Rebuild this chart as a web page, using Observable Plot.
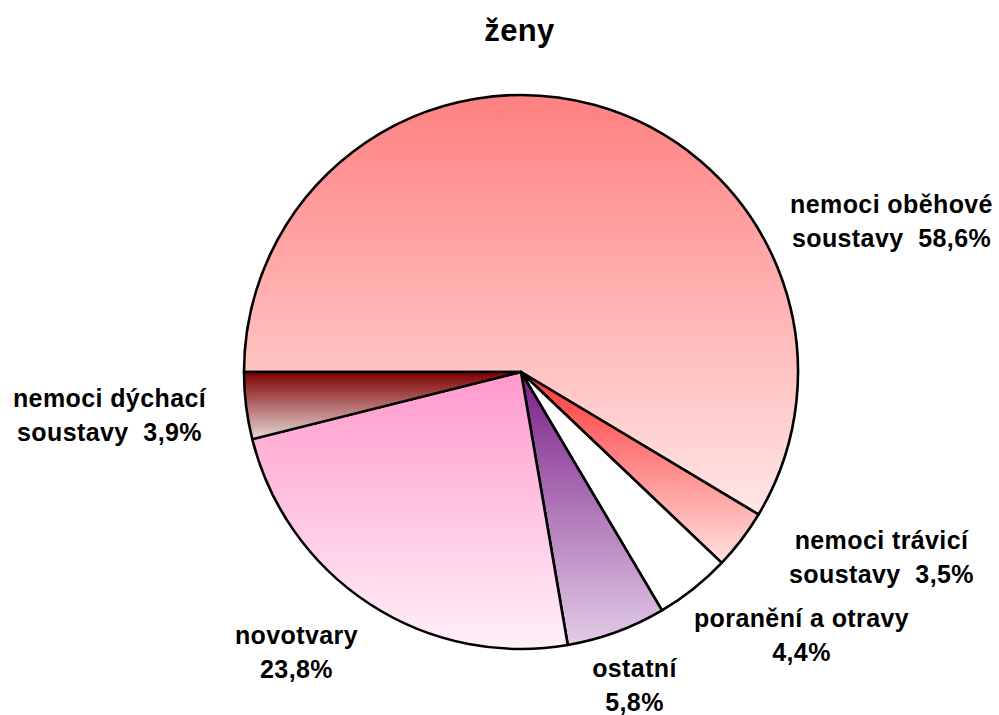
<!DOCTYPE html>
<html>
<head>
<meta charset="utf-8">
<script src="https://cdn.jsdelivr.net/npm/d3@7"></script>
<script src="https://cdn.jsdelivr.net/npm/@observablehq/plot@0.6"></script>
<style>
  html, body { margin: 0; padding: 0; background: #fff; }
  #chart svg { display: block; }
</style>
</head>
<body>
<div id="chart"></div>
<script>
// ---- data ----
const title = "ženy";
const categories = ["nemoci oběhové soustavy", "nemoci trávicí soustavy", "poranění a otravy", "ostatní", "novotvary", "nemoci dýchací soustavy"];
const shares = [58.6, 3.5, 4.4, 5.8, 23.8, 3.9];
const shareLabels = ["58,6%", "3,5%", "4,4%", "5,8%", "23,8%", "3,9%"];
const labelTexts = [
  "nemoci oběhové\nsoustavy\u00a0\u00a058,6%",
  "nemoci trávicí\nsoustavy\u00a0\u00a03,5%",
  "poranění a otravy\n4,4%",
  "ostatní\n5,8%",
  "novotvary\n23,8%",
  "nemoci dýchací\nsoustavy\u00a0\u00a03,9%"
];

// ---- styles / layout ----
const topColors    = ["#FF8080", "#FF3333", "#FFFFFF", "#7A1F88", "#FF99CC", "#7F0000"];
const bottomColors = ["#FFE6E6", "#FFE2E2", "#FFFFFF", "#E2CCE6", "#FFF0F8", "#E6D8D8"];
const pieLayout = {cx: 521, cy: 372, r: 277};
const labelX = [891, 881, 801, 634, 296, 109];
const labelY = [246, 582, 660, 710, 677, 440];

const labelData = categories.map((c, i) => ({category: c, text: labelTexts[i], x: labelX[i], y: labelY[i]}));

function pieMark(index, scales) {
  const g = d3.create("svg:g");
  const defs = g.append("defs");
  const cx = scales.x(pieLayout.cx), cy = scales.y(pieLayout.cy);
  const r = scales.x(pieLayout.cx + pieLayout.r) - cx;
  const arcs = d3.pie().sort(null).startAngle(-Math.PI / 2).endAngle(3 * Math.PI / 2)(shares);
  const arc = d3.arc().innerRadius(0).outerRadius(r);
  arcs.forEach((a, i) => {
    const lg = defs.append("linearGradient").attr("id", "slice-grad-" + i)
      .attr("x1", 0).attr("y1", 0).attr("x2", 0).attr("y2", 1);
    lg.append("stop").attr("offset", 0).attr("stop-color", topColors[i]);
    lg.append("stop").attr("offset", 1).attr("stop-color", bottomColors[i]);
  });
  g.append("g").attr("transform", `translate(${cx},${cy})`)
    .selectAll("path").data(arcs).join("path")
    .attr("d", arc)
    .attr("fill", (d, i) => `url(#slice-grad-${i})`)
    .attr("stroke", "#000")
    .attr("stroke-width", 2.6)
    .attr("stroke-linejoin", "round");
  return g.node();
}

const chart = Plot.plot({
  width: 999,
  height: 715,
  margin: 0,
  x: {domain: [0, 999], range: [0, 999], axis: null},
  y: {domain: [0, 715], range: [0, 715], axis: null},
  style: {fontFamily: "'Liberation Sans', Arial, sans-serif", background: "#fff", letterSpacing: "0.4px"},
  marks: [
    pieMark,
    Plot.text(labelData, {
      x: "x", y: "y", text: "text",
      textAnchor: "middle", lineAnchor: "bottom", lineHeight: 1.36,
      fontSize: 25, fontWeight: "bold", fill: "#000"
    }),
    Plot.text([title], {
      x: () => 519, y: () => 40, text: d => d,
      textAnchor: "middle", lineAnchor: "bottom",
      fontSize: 31, fontWeight: "bold", fill: "#000"
    })
  ]
});
document.getElementById("chart").appendChild(chart);
</script>
</body>
</html>
